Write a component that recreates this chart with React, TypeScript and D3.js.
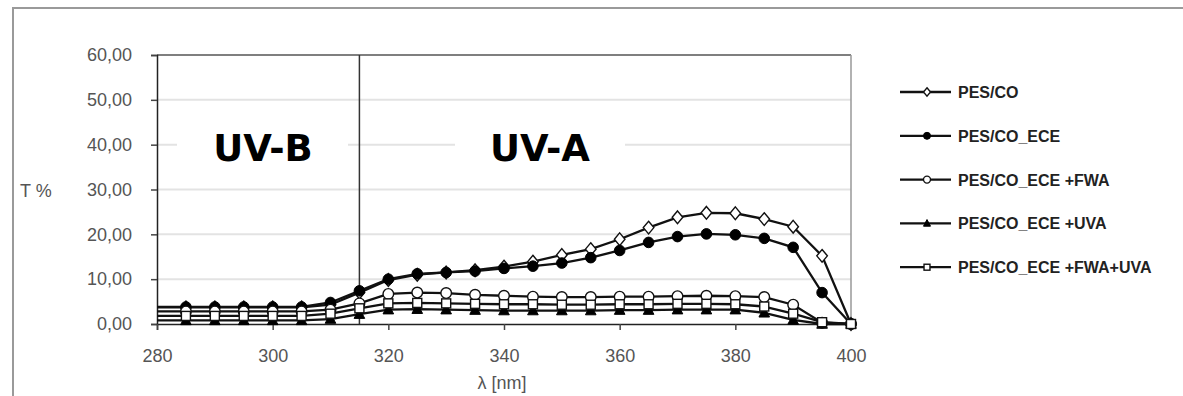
import { useEffect, useRef } from "react"
import * as d3 from "d3"

// wavelength (nm)
const wavelengths = [280, 285, 290, 295, 300, 305, 310, 315, 320, 325, 330, 335, 340, 345, 350, 355, 360, 365, 370, 375, 380, 385, 390, 395, 400]

const pesCo = [3.7, 3.7, 3.7, 3.7, 3.7, 3.7, 4.3, 7.0, 9.8, 11.0, 11.5, 12.0, 12.8, 13.9, 15.4, 16.7, 18.9, 21.5, 23.8, 24.8, 24.7, 23.4, 21.7, 15.2, 0]
const pesCoEce = [3.8, 3.8, 3.8, 3.8, 3.8, 3.8, 4.8, 7.4, 10.0, 11.2, 11.5, 11.8, 12.4, 12.9, 13.6, 14.8, 16.4, 18.2, 19.5, 20.1, 19.9, 19.1, 17.1, 7.0, 0]
const pesCoEceFwa = [2.8, 2.8, 2.8, 2.8, 2.8, 2.8, 3.2, 4.6, 6.7, 7.0, 6.9, 6.5, 6.3, 6.1, 6.0, 6.0, 6.1, 6.1, 6.2, 6.3, 6.2, 6.0, 4.3, 0.3, 0]
const pesCoEceUva = [0.8, 0.8, 0.8, 0.8, 0.8, 0.8, 1.1, 2.2, 3.2, 3.3, 3.2, 3.1, 3.0, 3.0, 3.0, 3.0, 3.1, 3.1, 3.2, 3.2, 3.2, 2.5, 0.9, 0, 0]
const pesCoEceFwaUva = [1.8, 1.8, 1.8, 1.8, 1.8, 1.8, 2.3, 3.5, 4.6, 4.7, 4.6, 4.5, 4.4, 4.4, 4.3, 4.3, 4.4, 4.4, 4.5, 4.5, 4.4, 3.9, 2.3, 0.4, 0]

const seriesNames = ["PES/CO", "PES/CO_ECE", "PES/CO_ECE +FWA", "PES/CO_ECE +UVA", "PES/CO_ECE +FWA+UVA"]
const seriesValues = [pesCo, pesCoEce, pesCoEceFwa, pesCoEceUva, pesCoEceFwaUva]
const markerTypes = ["diamond", "circleFilled", "circleOpen", "triangle", "square"]

const yTicks = [0, 10, 20, 30, 40, 50, 60]
const xTicks = [280, 300, 320, 340, 360, 380, 400]

export default function App() {
  const svgRef = useRef<SVGSVGElement>(null)

  useEffect(() => {
    if (!svgRef.current) return
    const svg = d3.select(svgRef.current)
    svg.selectAll("*").remove()

    const left = 157
    const right = 851
    const top = 55
    const bottom = 324
    const font = "Arial, 'Liberation Sans', sans-serif"

    const x = d3.scaleLinear().domain([280, 400]).range([left, right])
    const y = d3.scaleLinear().domain([0, 60]).range([bottom, top])

    svg.append("rect").attr("width", 1183).attr("height", 396).attr("fill", "white")

    // outer chart border
    svg.append("path")
      .attr("d", `M13,396 L13,8 L1183,8`)
      .attr("fill", "none")
      .attr("stroke", "#9a9a9a")
      .attr("stroke-width", 2)

    // gridlines
    svg.append("g")
      .selectAll("line")
      .data(yTicks.filter((d) => d > 0 && d < 60))
      .enter()
      .append("line")
      .attr("x1", left)
      .attr("x2", right)
      .attr("y1", (d) => y(d))
      .attr("y2", (d) => y(d))
      .attr("stroke", "#e3e3e3")
      .attr("stroke-width", 2)

    // plot frame top/right
    svg.append("line").attr("x1", left).attr("x2", right).attr("y1", top).attr("y2", top)
      .attr("stroke", "#555").attr("stroke-width", 1.5)
    svg.append("line").attr("x1", right).attr("x2", right).attr("y1", top).attr("y2", bottom)
      .attr("stroke", "#999").attr("stroke-width", 1.5)

    // region labels with white box
    const regions = [
      { label: "UV-B", cx: 263, bx: 177, bw: 171 },
      { label: "UV-A", cx: 540, bx: 455, bw: 170 },
    ]
    regions.forEach((r) => {
      svg.append("rect").attr("x", r.bx).attr("y", 125).attr("width", r.bw).attr("height", 42).attr("fill", "white")
      svg.append("text")
        .attr("x", r.cx)
        .attr("y", 161)
        .attr("text-anchor", "middle")
        .attr("fill", "#000")
        .style("font-family", "'DejaVu Sans', sans-serif")
        .style("font-weight", "bold")
        .style("font-size", "37px")
        .text(r.label)
    })

    // UV-B / UV-A divider at 315 nm
    svg.append("line").attr("x1", x(315)).attr("x2", x(315)).attr("y1", top).attr("y2", bottom)
      .attr("stroke", "#333").attr("stroke-width", 1.5)

    // axes
    const yAxis = d3.axisLeft(y).tickValues(yTicks).tickSize(6).tickFormat((d) => d3.format(".2f")(d as number).replace(".", ","))
    const gy = svg.append("g").attr("transform", `translate(${left},0)`).call(yAxis)
    gy.select(".domain").attr("stroke", "#222").attr("stroke-width", 1.5)
    gy.selectAll(".tick line").attr("stroke", "#444").attr("stroke-width", 1.5)
    gy.selectAll(".tick text")
      .attr("x", -25)
      .attr("fill", "#555")
      .style("font-family", font)
      .style("font-size", "18px")

    const xAxis = d3.axisBottom(x).tickValues(xTicks).tickSize(6).tickFormat((d) => String(d))
    const gx = svg.append("g").attr("transform", `translate(0,${bottom})`).call(xAxis)
    gx.select(".domain").attr("stroke", "#222").attr("stroke-width", 1.5)
    gx.selectAll(".tick line").attr("stroke", "#444").attr("stroke-width", 1.5)
    gx.selectAll(".tick text")
      .attr("y", 25)
      .attr("fill", "#555")
      .style("font-family", font)
      .style("font-size", "18px")

    svg.append("text").attr("x", 20).attr("y", 197).attr("fill", "#555")
      .style("font-family", font).style("font-size", "18px").text("T %")
    svg.append("text").attr("x", 502).attr("y", 389).attr("text-anchor", "middle").attr("fill", "#555")
      .style("font-family", font).style("font-size", "18px").text("λ [nm]")

    const drawMarker = (g: any, type: string, cx: number, cy: number, s: number) => {
      if (type === "diamond") {
        g.append("path").attr("d", `M${cx},${cy - s * 1.2} L${cx + s},${cy} L${cx},${cy + s * 1.2} L${cx - s},${cy} Z`)
          .attr("fill", "white").attr("stroke", "#111").attr("stroke-width", 1.4)
      } else if (type === "circleFilled") {
        g.append("circle").attr("cx", cx).attr("cy", cy).attr("r", s).attr("fill", "#000").attr("stroke", "#000")
      } else if (type === "circleOpen") {
        g.append("circle").attr("cx", cx).attr("cy", cy).attr("r", s).attr("fill", "white").attr("stroke", "#111").attr("stroke-width", 1.4)
      } else if (type === "triangle") {
        g.append("path").attr("d", `M${cx},${cy - s * 1.1} L${cx + s},${cy + s * 0.8} L${cx - s},${cy + s * 0.8} Z`)
          .attr("fill", "#000").attr("stroke", "#000")
      } else {
        g.append("rect").attr("x", cx - s * 0.85).attr("y", cy - s * 0.85).attr("width", s * 1.7).attr("height", s * 1.7)
          .attr("fill", "white").attr("stroke", "#111").attr("stroke-width", 1.4)
      }
    }

    const line = d3.line<number>().x((_, i) => x(wavelengths[i])).y((d) => y(d))

    seriesValues.forEach((vals, si) => {
      const g = svg.append("g")
      g.append("path").attr("d", line(vals)).attr("fill", "none").attr("stroke", "#111").attr("stroke-width", 2.3)
      vals.forEach((v, i) => {
        if (wavelengths[i] === 280) return
        drawMarker(g, markerTypes[si], x(wavelengths[i]), y(v), 5.3)
      })
    })

    // legend
    const legend = svg.append("g")
    seriesNames.forEach((name, i) => {
      const ly = 92 + i * 43.8
      legend.append("line").attr("x1", 900).attr("x2", 951).attr("y1", ly).attr("y2", ly)
        .attr("stroke", "#111").attr("stroke-width", 2.3)
      drawMarker(legend, markerTypes[i], 927, ly, 3.5)
      legend.append("text").attr("x", 958).attr("y", ly + 6).attr("fill", "#222")
        .style("font-family", font).style("font-weight", "bold").style("font-size", "16px")
        .text(name)
    })
  }, [])

  return (
    <svg ref={svgRef} width={1183} height={396} style={{ position: "absolute", left: 0, top: 0 }}></svg>
  )
}
